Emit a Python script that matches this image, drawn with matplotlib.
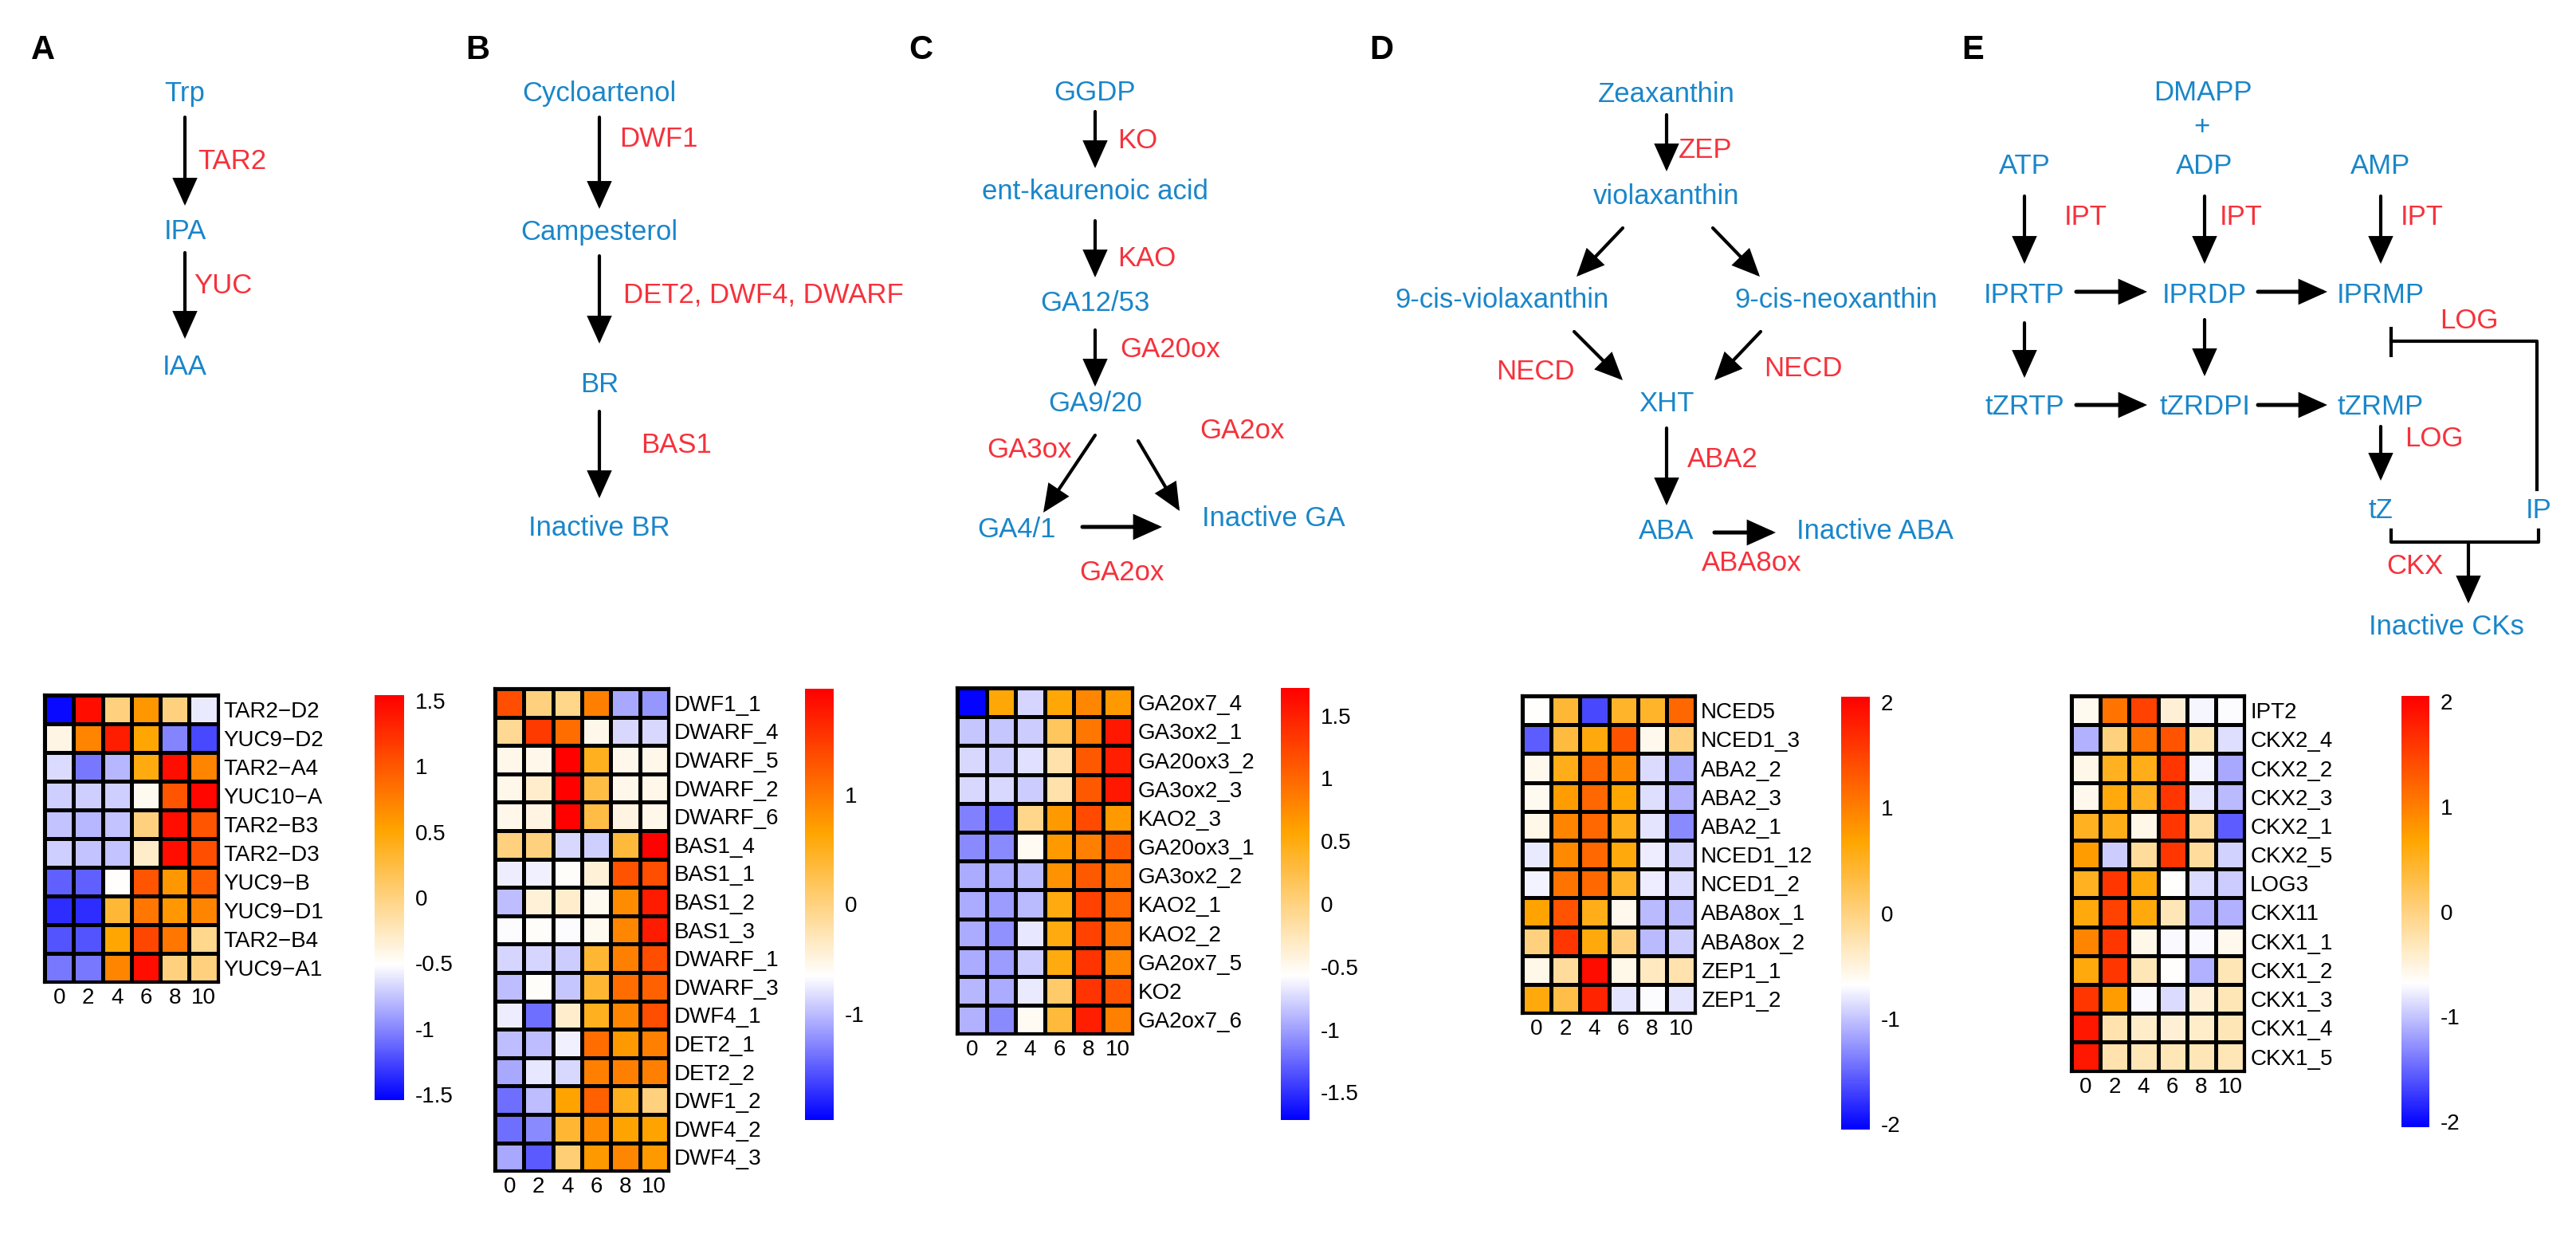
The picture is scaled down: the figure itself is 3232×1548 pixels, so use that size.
import numpy as np
import matplotlib
matplotlib.use("Agg")
import matplotlib as mpl
import matplotlib.pyplot as plt
from matplotlib.colors import LinearSegmentedColormap, Normalize
from matplotlib.patches import FancyArrowPatch

plt.rcParams['font.family'] = ['Liberation Sans', 'DejaVu Sans']
plt.rcParams['axes.unicode_minus'] = False

#%% data (z-scores)
times = ["0", "2", "4", "6", "8", "10"]

a_genes = ["TAR2\u2212D2", "YUC9\u2212D2", "TAR2\u2212A4", "YUC10\u2212A", "TAR2\u2212B3",
           "TAR2\u2212D3", "YUC9\u2212B", "YUC9\u2212D1", "TAR2\u2212B4", "YUC9\u2212A1"]
a_values = np.array([
    [-1.50, 1.45, 0.00, 0.60, 0.00, -0.60],
    [-0.40, 0.72, 1.35, 0.50, -1.00, -1.25],
    [-0.65, -1.05, -0.80, 0.45, 1.45, 0.72],
    [-0.70, -0.70, -0.70, -0.45, 1.00, 1.50],
    [-0.75, -0.80, -0.75, 0.00, 1.45, 1.00],
    [-0.70, -0.75, -0.75, -0.30, 1.45, 1.05],
    [-1.15, -1.15, -0.50, 1.00, 0.60, 0.95],
    [-1.35, -1.35, 0.30, 0.80, 0.60, 0.72],
    [-1.20, -1.20, 0.50, 1.10, 0.80, -0.05],
    [-1.05, -1.05, 0.72, 1.45, 0.00, 0.00]])
a_lim = 1.54
a_ticks = [1.5, 1, 0.5, 0, -0.5, -1, -1.5]

b_genes = ["DWF1_1", "DWARF_4", "DWARF_5", "DWARF_2", "DWARF_6", "BAS1_4",
           "BAS1_1", "BAS1_2", "BAS1_3", "DWARF_1", "DWARF_3", "DWF4_1",
           "DET2_1", "DET2_2", "DWF1_2", "DWF4_2", "DWF4_3"]
b_values = np.array([
    [1.35, 0.00, -0.05, 0.95, -1.10, -1.20],
    [-0.10, 1.50, 1.10, -0.55, -0.85, -0.85],
    [-0.55, -0.55, 1.95, 0.50, -0.55, -0.55],
    [-0.55, -0.40, 1.95, 0.30, -0.55, -0.55],
    [-0.55, -0.50, 1.95, 0.30, -0.50, -0.55],
    [0.00, 0.00, -0.85, -0.90, 0.35, 1.95],
    [-0.75, -0.73, -0.62, -0.45, 1.30, 1.35],
    [-1.00, -0.45, -0.40, -0.58, 0.85, 1.75],
    [-0.67, -0.62, -0.67, -0.58, 0.90, 1.75],
    [-0.87, -0.87, -0.92, 0.40, 0.95, 1.35],
    [-1.00, -0.62, -0.95, 0.40, 1.10, 1.20],
    [-0.75, -1.40, -0.40, 0.50, 0.90, 1.35],
    [-1.00, -1.00, -0.73, 1.10, 0.75, 0.95],
    [-1.10, -0.78, -0.85, 0.95, 0.95, 0.95],
    [-1.40, -1.00, 0.67, 1.20, 0.50, 0.00],
    [-1.40, -1.25, 0.40, 0.85, 0.67, 0.67],
    [-1.10, -1.50, 0.05, 0.75, 0.90, 0.75]])
b_lim = 1.97
b_ticks = [1, 0, -1]

c_genes = ["GA2ox7_4", "GA3ox2_1", "GA20ox3_2", "GA3ox2_3", "KAO2_3", "GA20ox3_1",
           "GA3ox2_2", "KAO2_1", "KAO2_2", "GA2ox7_5", "KO2", "GA2ox7_6"]
c_values = np.array([
    [-1.70, 0.55, -0.76, 0.55, 0.78, 0.65],
    [-0.83, -0.83, -0.80, 0.15, 0.90, 1.55],
    [-0.75, -0.80, -0.70, -0.20, 1.10, 1.50],
    [-0.75, -0.75, -0.80, -0.20, 1.10, 1.55],
    [-1.13, -1.25, -0.05, 0.65, 1.20, 0.65],
    [-1.10, -1.10, -0.52, 0.65, 0.82, 1.10],
    [-0.95, -0.95, -0.88, 0.70, 1.10, 0.90],
    [-0.95, -1.02, -0.88, 0.50, 1.25, 1.00],
    [-0.95, -1.07, -0.68, 0.50, 1.25, 0.90],
    [-0.95, -1.02, -0.80, 0.50, 1.35, 0.78],
    [-0.90, -0.95, -0.66, 0.10, 1.35, 1.15],
    [-0.92, -1.10, -0.52, 0.30, 1.50, 0.82]])
c_lim = 1.72
c_ticks = [1.5, 1, 0.5, 0, -0.5, -1, -1.5]

d_genes = ["NCED5", "NCED1_3", "ABA2_2", "ABA2_3", "ABA2_1", "NCED1_12",
           "NCED1_2", "ABA8ox_1", "ABA8ox_2", "ZEP1_1", "ZEP1_2"]
d_values = np.array([
    [-0.67, 0.40, -1.65, 0.45, 0.45, 1.20],
    [-1.55, 0.35, 0.62, 1.35, -0.58, 0.00],
    [-0.58, 0.55, 1.20, 0.90, -0.87, -1.15],
    [-0.60, 0.75, 1.20, 0.67, -0.85, -1.10],
    [-0.55, 0.95, 1.20, 0.55, -0.82, -1.30],
    [-0.80, 0.90, 1.20, 0.62, -0.78, -0.92],
    [-0.75, 1.10, 1.20, 0.45, -0.78, -0.87],
    [0.70, 1.35, 0.55, -0.58, -1.05, -1.05],
    [0.00, 1.60, 0.62, 0.00, -1.05, -0.95],
    [-0.55, -0.15, 1.95, -0.55, -0.35, -0.25],
    [0.62, 0.30, 1.75, -0.82, -0.70, -0.82]])
d_lim = 2.05
d_ticks = [2, 1, 0, -1, -2]

e_genes = ["IPT2", "CKX2_4", "CKX2_2", "CKX2_3", "CKX2_1", "CKX2_5", "LOG3",
           "CKX11", "CKX1_1", "CKX1_2", "CKX1_3", "CKX1_4", "CKX1_5"]
e_values = np.array([
    [-0.60, 1.10, 1.50, -0.45, -0.73, -0.70],
    [-1.10, 0.00, 1.10, 1.35, -0.30, -0.85],
    [-0.55, 0.50, 0.55, 1.60, -0.75, -1.15],
    [-0.58, 0.62, 0.50, 1.60, -0.82, -1.05],
    [0.50, 0.55, -0.55, 1.60, -0.15, -1.55],
    [0.75, -0.95, -0.15, 1.60, -0.15, -0.92],
    [0.50, 1.60, 0.62, -0.67, -0.87, -0.95],
    [0.62, 1.50, 0.62, -0.30, -1.10, -1.10],
    [0.95, 1.60, -0.55, -0.72, -0.72, -0.58],
    [0.62, 1.60, -0.30, -0.67, -1.10, -0.30],
    [1.60, 0.75, -0.72, -0.87, -0.45, -0.30],
    [1.85, -0.25, -0.40, -0.45, -0.40, -0.30],
    [1.85, -0.25, -0.30, -0.30, -0.30, -0.30]])
e_lim = 2.05
e_ticks = [2, 1, 0, -1, -2]

#%% figure
W, H = 3232, 1548
BLUE = "#1a86c9"
RED = "#f5323c"
cmap = LinearSegmentedColormap.from_list("bwor", ["#0000ff", "#ffffff", "#ffa500", "#ff0000"])

fig = plt.figure(figsize=(W/100, H/100), dpi=100)
ax0 = fig.add_axes([0, 0, 1, 1])
ax0.set_xlim(0, W)
ax0.set_ylim(H, 0)
ax0.axis("off")


def frac(x0, y0, x1, y1):
    return [x0/W, 1-y1/H, (x1-x0)/W, (y1-y0)/H]


def node(x, y, s):
    ax0.text(x, y, s, color=BLUE, fontsize=25, ha="center", va="center")


def enz(x, y, s, ha="left"):
    ax0.text(x, y, s, color=RED, fontsize=25, ha=ha, va="center")


def arrow(x0, y0, x1, y1, lw=3.0):
    ax0.add_patch(FancyArrowPatch((x0, y0), (x1, y1),
                                  arrowstyle="-|>,head_length=2.0,head_width=0.9",
                                  mutation_scale=10, lw=lw, color="k",
                                  shrinkA=0, shrinkB=0, joinstyle="miter"))


def heat(x0, y0, cw, ch, genes, vals, lim):
    n = len(genes)
    ax = fig.add_axes(frac(x0, y0, x0+6*cw, y0+n*ch))
    ax.pcolormesh(vals, cmap=cmap, vmin=-lim, vmax=lim, edgecolors="k", linewidth=2.2)
    ax.set_xlim(0, 6)
    ax.set_ylim(n, 0)
    ax.set_xticks(np.arange(6)+0.5)
    ax.set_xticklabels(times, fontsize=20)
    ax.set_yticks(np.arange(n)+0.5)
    ax.set_yticklabels(genes, fontsize=20)
    ax.yaxis.tick_right()
    ax.tick_params(length=0, pad=5)
    for s in ax.spines.values():
        s.set_linewidth(3)


def cbar(x0, y0, x1, y1, lim, ticks):
    cax = fig.add_axes(frac(x0, y0, x1, y1))
    sm = mpl.cm.ScalarMappable(norm=Normalize(-lim, lim), cmap=cmap)
    cb = fig.colorbar(sm, cax=cax, ticks=ticks)
    cb.outline.set_visible(False)
    cb.ax.set_yticklabels([f"{t:g}" for t in ticks], fontsize=20)
    cb.ax.tick_params(length=0, pad=10)


# panel letters
for x, s in [(54, "A"), (599, "B"), (1155, "C"), (1733, "D"), (2475, "E")]:
    ax0.text(x, 63, s, fontsize=30, fontweight="bold", ha="center", va="center")

# A: auxin
node(232, 118, "Trp")
arrow(232, 147, 232, 258)
enz(248, 203, "TAR2")
node(232, 291, "IPA")
arrow(232, 317, 232, 425)
enz(243, 359, "YUC")
node(232, 460, "IAA")

# B: brassinosteroids
node(752, 118, "Cycloartenol")
arrow(752, 147, 752, 262)
enz(777, 174, "DWF1")
node(752, 292, "Campesterol")
arrow(752, 321, 752, 431)
enz(782, 370, "DET2, DWF4, DWARF")
node(752, 483, "BR")
arrow(752, 516, 752, 625)
enz(804, 559, "BAS1")
node(752, 663, "Inactive BR")

# C: gibberellins
node(1374, 117, "GGDP")
arrow(1374, 140, 1374, 211)
enz(1402, 176, "KO")
node(1374, 240, "ent-kaurenoic acid")
arrow(1374, 277, 1374, 348)
enz(1402, 325, "KAO")
node(1374, 381, "GA12/53")
arrow(1374, 414, 1374, 485)
enz(1405, 439, "GA20ox")
node(1374, 507, "GA9/20")
enz(1291, 565, "GA3ox", ha="center")
arrow(1374, 546, 1309, 643)
arrow(1428, 553, 1480, 641)
enz(1558, 540, "GA2ox", ha="center")
node(1276, 665, "GA4/1")
arrow(1358, 661, 1458, 661, lw=3.6)
ax0.text(1508, 650, "Inactive GA", color=BLUE, fontsize=25, ha="left", va="center")
enz(1407, 719, "GA2ox", ha="center")

# D: abscisic acid
node(2091, 118, "Zeaxanthin")
arrow(2091, 144, 2091, 215)
enz(2106, 188, "ZEP")
node(2091, 246, "violaxanthin")
arrow(2036, 286, 1978, 347)
arrow(2149, 286, 2208, 347)
node(1884, 377, "9-cis-violaxanthin")
node(2304, 377, "9-cis-neoxanthin")
arrow(1975, 416, 2036, 477)
arrow(2209, 416, 2151, 477)
enz(1926, 466, "NECD", ha="center")
enz(2262, 462, "NECD", ha="center")
node(2091, 507, "XHT")
arrow(2091, 537, 2091, 634)
enz(2117, 577, "ABA2")
node(2091, 666, "ABA")
arrow(2151, 668, 2228, 668, lw=3.6)
node(2352, 666, "Inactive ABA")
enz(2198, 706, "ABA8ox", ha="center")

# E: cytokinins
node(2764, 117, "DMAPP")
node(2762, 159, "+")
for x, s in [(2540, "ATP"), (2766, "ADP"), (2987, "AMP")]:
    node(x, 208, s)
    arrow(x, 246, x, 331)
for x in [2617, 2812, 3039]:
    enz(x, 272, "IPT", ha="center")
node(2540, 370, "IPRTP")
node(2766, 370, "IPRDP")
node(2987, 370, "IPRMP")
arrow(2605, 366, 2694, 366, lw=3.6)
arrow(2833, 366, 2920, 366, lw=3.6)
arrow(2540, 405, 2540, 474)
arrow(2766, 401, 2766, 472)
node(2540, 510, "tZRTP")
node(2766, 510, "tZRDPI")
node(2987, 510, "tZRMP")
arrow(2605, 508, 2694, 508, lw=3.6)
arrow(2833, 508, 2920, 508, lw=3.6)
# LOG inhibition
ax0.plot([3000, 3000], [410, 448], color="k", lw=3, solid_capstyle="butt")
ax0.plot([3000, 3183, 3183], [428, 428, 614], color="k", lw=3)
enz(3098, 403, "LOG", ha="center")
arrow(2987, 535, 2987, 603)
enz(3054, 551, "LOG", ha="center")
node(2987, 641, "tZ")
node(3185, 641, "IP")
ax0.plot([3000, 3000, 3185, 3185], [665, 680, 680, 665], color="k", lw=3)
arrow(3097, 680, 3097, 757)
enz(3030, 710, "CKX", ha="center")
node(3069, 787, "Inactive CKs")

#%% heatmaps and colour keys
heat(56, 872, 36.3, 36.0, a_genes, a_values, a_lim)
cbar(470, 872, 507, 1380, a_lim, a_ticks)

heat(621, 864, 36.3, 35.6, b_genes, b_values, b_lim)
cbar(1010, 864, 1046, 1405, b_lim, b_ticks)

heat(1201, 863, 36.6, 36.2, c_genes, c_values, c_lim)
cbar(1607, 863, 1643, 1405, c_lim, c_ticks)

heat(1910, 873, 36.2, 36.2, d_genes, d_values, d_lim)
cbar(2310, 874, 2346, 1417, d_lim, d_ticks)

heat(2599, 873, 36.2, 36.2, e_genes, e_values, e_lim)
cbar(3013, 873, 3048, 1414, e_lim, e_ticks)

fig.savefig("out.png", dpi=100, facecolor="white")
